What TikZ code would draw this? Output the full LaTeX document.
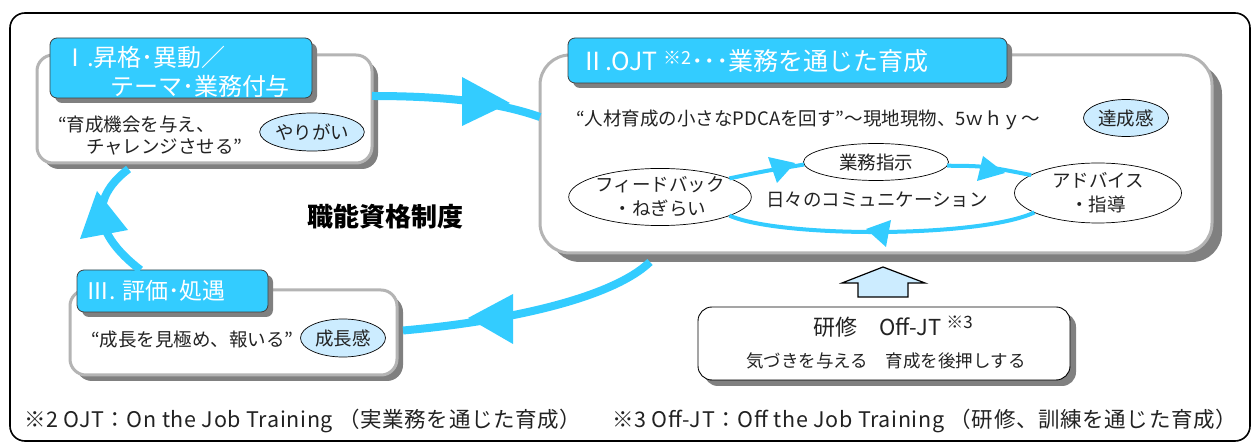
\documentclass[tikz,border=0pt]{standalone}
\usepackage{fontspec}
\setmainfont{Noto Sans CJK JP}
\newfontfamily\fnfont{Noto Sans CJK JP}[LetterSpace=3]
\usetikzlibrary{arrows.meta,shapes.geometric,shadows}
\definecolor{cy}{HTML}{33CCFF}
\definecolor{lb}{HTML}{CCECFF}
\definecolor{gb}{HTML}{B4B4B4}
\definecolor{sh}{HTML}{808080}
\definecolor{tx}{HTML}{222222}
\newcommand{\fs}[1]{\fontsize{#1}{#1}\selectfont}
\begin{document}
\begin{tikzpicture}[x=1pt,y=-1pt,
  every node/.style={inner sep=0pt, outer sep=0pt, text=tx},
  panel/.style={draw=gb, line width=3pt, fill=white, rounded corners=16pt,
    drop shadow={shadow xshift=6pt, shadow yshift=-6pt, fill=sh, opacity=1}},
  panelbig/.style={draw=gb, line width=3pt, fill=white, rounded corners=30pt,
    drop shadow={shadow xshift=10pt, shadow yshift=-9pt, fill=sh, opacity=1}},
  titlebox/.style={draw=black!75, line width=0.8pt, fill=cy, rounded corners=7pt,
    drop shadow={shadow xshift=5pt, shadow yshift=-5pt, fill=sh, opacity=1}},
  ttext/.style={text=white, font=\fontsize{24}{27}\selectfont},
  body/.style={font=\fontsize{18.5}{24}\selectfont},
  oval/.style={ellipse, draw=black, line width=0.7pt, fill=lb, font=\fontsize{18.5}{20}\selectfont},
  ell/.style={ellipse, draw=black, line width=0.7pt, fill=white, align=center, font=\fontsize{18.5}{24}\selectfont},
  kbox/.style={draw=black, line width=0.9pt, fill=white, rounded corners=14pt,
    drop shadow={shadow xshift=6pt, shadow yshift=-6pt, fill=sh, opacity=1}},
  bigline/.style={cy, line width=8pt},
  smallline/.style={cy, line width=4pt},
  tipfill/.style={fill=cy, draw=none},
  fnote/.style={anchor=west, font=\fnfont\fontsize{21.5}{22}\selectfont},
]
\useasboundingbox (0,0) rectangle (1251,443);
\fill[white] (0,0) rectangle (1251,443);
% outer frame
\draw[line width=1.6pt, rounded corners=15pt] (10,13) rectangle (1250,441);

% ---------- Box I ----------
\node[panel, minimum width=335pt, minimum height=108pt] (b1) at (204.5,109) {};
\node[titlebox, minimum width=262pt, minimum height=60pt] (t1) at (181,68) {};
\node[ttext, anchor=west] (t1a) at (63,57) {Ⅰ.昇格･異動／};
\node[ttext, anchor=east] (t1b) at (290,86) {テーマ･業務付与};
\node[body, anchor=west] (q1a) at (58,125) {“育成機会を与え、};
\node[body, anchor=west] (q1b) at (86,147) {チャレンジさせる”};
\node[oval, minimum width=85pt, minimum height=38pt] (e1) at (312,132) {やりがい};

% ---------- Box II ----------
\node[panelbig, minimum width=672pt, minimum height=198pt] (b2) at (876,154) {};
\node[titlebox, minimum width=439pt, minimum height=45pt] (t2) at (787.5,60.5) {};
\node[ttext, anchor=west, font=\fontsize{25}{27}\selectfont] (t2a) at (580,61) {Ⅱ.OJT \raisebox{6pt}{\fs{18}※2}･･･業務を通じた育成};
\node[body, anchor=west] (q2) at (576,120) {“人材育成の小さなPDCAを回す”～現地現物、5ｗｈｙ～};
\node[oval, minimum width=85pt, minimum height=37pt] (e2) at (1126,118) {達成感};
\node[ell, minimum width=165pt, minimum height=50pt] (fb) at (660,197) {フィードバック\\・ねぎらい};
\node[ell, minimum width=145pt, minimum height=37pt] (gy) at (876,162) {業務指示};
\node[ell, minimum width=167pt, minimum height=60pt] (ad) at (1098,193) {アドバイス\\・指導};
\node[body] (cm) at (877,200) {日々のコミュニケーション};
\draw[smallline] (fb.15) .. controls (765,171) .. (gy.182);
\draw[smallline] (gy.-3) .. controls (985,166) .. (ad.165);
\draw[smallline] (ad.197) .. controls (980,238) and (780,238) .. (fb.-15);
\fill[tipfill] (768,157) -- (795,163) -- (777,183) -- cycle;
\fill[tipfill] (983,156) -- (1005,173) -- (977,181) -- cycle;
\fill[tipfill] (891,220) -- (866,229) -- (886,247) -- cycle;

% ---------- Box III ----------
\node[panel, minimum width=327pt, minimum height=85pt] (b3) at (233.5,332.5) {};
\node[titlebox, minimum width=191pt, minimum height=42pt] (t3) at (172.5,291) {};
\node[ttext, anchor=west, font=\fontsize{23}{27}\selectfont] (t3a) at (86,291) {Ⅲ. 評価･処遇};
\node[body, anchor=west] (q3) at (91,340) {“成長を見極め、報いる”};
\node[oval, minimum width=85pt, minimum height=38pt] (e3) at (343,338) {成長感};

% center label
\node[font=\bfseries\fontsize{26}{26}\selectfont, text=black] (sys) at (385,217) {職能資格制度};

% ---------- Off-JT box ----------
\node[kbox, minimum width=372pt, minimum height=73pt] (kb) at (884,343.5) {};
\node[font=\fontsize{22}{22}\selectfont] (kb1) at (893,327) {研修　Off-JT \raisebox{7pt}{\fs{17}※3}};
\node[font=\fontsize{17.5}{17.5}\selectfont] (kb2) at (886,361) {気づきを与える　育成を後押しする};
\draw[line width=1.2pt, fill=lb] (858,297) -- (858,283) -- (842,283) -- (883,267) -- (925,283) -- (908,283) -- (908,297) -- cycle;

% ---------- big cycle arrows ----------
\draw[bigline] ([yshift=13pt]b1.east) .. controls (450,96) and (500,103) .. ([yshift=37pt]b2.west);
\fill[tipfill] (462,77) -- (510,103) -- (462,126) -- cycle;
\draw[bigline] ([shift={(-226pt,-9pt)}]b2.south) .. controls (610,300) and (500,322) .. ([shift={(6pt,2pt)}]b3.east);
\fill[tipfill] (513,294) -- (468,318) -- (513,344) -- cycle;
\draw[bigline] ([xshift=-32pt]t3.north) .. controls (95,235) and (88,200) .. ([shift={(-76pt,-6pt)}]b1.south);
\fill[tipfill] (97,191) -- (80,239) -- (128,230) -- cycle;

% ---------- footnote ----------
\node[fnote] (fn1) at (24,421) {※2 OJT：On the Job Training （実業務を通じた育成）};
\node[fnote] (fn2) at (612,421) {※3 Off-JT：Off the Job Training （研修、訓練を通じた育成）};
\end{tikzpicture}
\end{document}
